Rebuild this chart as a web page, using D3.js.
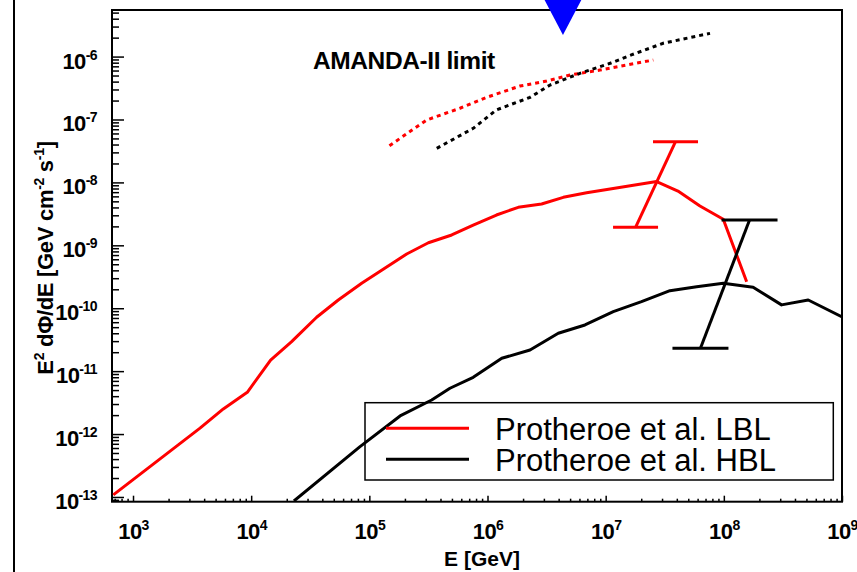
<!DOCTYPE html>
<html>
<head>
<meta charset="utf-8">
<script src="https://cdn.jsdelivr.net/npm/d3@7"></script>
<style>
  html, body { margin: 0; padding: 0; background: #fff; }
  svg { display: block; font-family: "Liberation Sans", Arial, Helvetica, sans-serif; }
</style>
</head>
<body>
<svg id="chart" width="857" height="572"></svg>
<script>
// Neutrino flux predictions, E^2 dPhi/dE [GeV cm^-2 s^-1] versus E [GeV]

// Protheroe et al. LBL model
const lblEnergy = [681, 3690, 5810, 9270, 1.46e4, 2.20e4, 3.58e4, 5.46e4, 8.61e4, 1.31e5,
                   2.07e5, 3.16e5, 4.98e5, 7.57e5, 1.19e6, 1.82e6, 2.87e6, 4.38e6, 6.90e6,
                   1.09e7, 2.70e7, 4.09e7, 6.28e7, 9.89e7, 1.56e8];
const lblFlux   = [1.08e-13, 1.24e-12, 2.51e-12, 4.61e-12, 1.50e-11, 2.94e-11, 7.18e-11, 1.35e-10,
                   2.49e-10, 4.16e-10, 7.28e-10, 1.10e-9, 1.46e-9, 2.10e-9, 3.03e-9, 4.02e-9,
                   4.54e-9, 5.79e-9, 6.85e-9, 7.85e-9, 1.03e-8, 7.29e-9, 4.22e-9, 2.59e-9, 2.64e-10];

// Protheroe et al. HBL model
const hblEnergy = [2.30e4, 8.34e4, 1.82e5, 3.37e5, 4.81e5, 7.57e5, 1.32e6, 2.29e6, 3.97e6, 6.68e6,
                   1.16e7, 2.01e7, 3.50e7, 5.89e7, 9.89e7, 1.77e8, 3.08e8, 5.18e8, 9.93e8];
const hblFlux   = [8.63e-14, 6.30e-13, 1.94e-12, 3.48e-12, 5.35e-12, 7.98e-12, 1.60e-11, 2.17e-11,
                   4.00e-11, 5.42e-11, 8.81e-11, 1.27e-10, 1.90e-10, 2.20e-10, 2.49e-10, 2.15e-10,
                   1.13e-10, 1.35e-10, 7.35e-11];

// Uncertainty bands (lower end, upper end)
const lblErrEnergy = [1.79e7, 3.90e7];
const lblErrFlux   = [1.93e-9, 4.44e-8];
const hblErrEnergy = [6.34e7, 1.65e8];
const hblErrFlux   = [2.31e-11, 2.52e-9];

// AMANDA-II limits for each model
const lblLimitEnergy = [1.48e5, 3.05e5, 5.85e5, 9.84e5, 1.88e6, 3.17e6, 4.99e6, 8.95e6, 1.51e7, 2.53e7];
const lblLimitFlux   = [3.83e-8, 9.82e-8, 1.51e-7, 2.25e-7, 3.40e-7, 4.09e-7, 5.09e-7, 6.11e-7, 7.35e-7, 8.81e-7];
const hblLimitEnergy = [3.72e5, 7.57e5, 1.19e6, 2.29e6, 3.38e6, 6.05e6, 1.09e7, 1.71e7, 3.07e7, 7.64e7];
const hblLimitFlux   = [3.48e-8, 7.24e-8, 1.42e-7, 2.25e-7, 3.53e-7, 5.42e-7, 7.82e-7, 1.09e-6, 1.63e-6, 2.34e-6];

// Marker energy shown at the top of the frame
const markerEnergy = 4.35e6;

// Axis labels
const xTickExponents = [3, 4, 5, 6, 7, 8, 9];
const yTickExponents = [-13, -12, -11, -10, -9, -8, -7, -6];
const legendLabels = ["Protheroe et al. LBL", "Protheroe et al. HBL"];
const legendColors = ["#ff0000", "#000000"];

(function () {
const svg = d3.select("#chart");
const pL = 112, pR = 842, pT = 10, pB = 501.7;

const x = d3.scaleLog().domain([664, 1e9]).range([pL, pR]);
const y = d3.scaleLog().domain([8.41e-14, 5.5e-6]).range([pB, pT]);

const zip = (a, b) => a.map((v, i) => [v, b[i]]);
const line = d3.line().x(d => x(d[0])).y(d => y(d[1]));

// full-height rule on the left
svg.append("line").attr("x1", 14).attr("x2", 14).attr("y1", 0).attr("y2", 572)
  .attr("stroke", "#000").attr("stroke-width", 2);

// clip region for the data
svg.append("defs").append("clipPath").attr("id", "plotclip")
  .append("rect").attr("x", pL).attr("y", pT).attr("width", pR - pL).attr("height", pB - pT);

const isDecade = v => Math.abs(Math.log10(v) - Math.round(Math.log10(v))) < 1e-6;
const xMajor = xTickExponents.map(e => Math.pow(10, e));
const yMajor = yTickExponents.map(e => Math.pow(10, e));
const xMinor = x.ticks().filter(v => !isDecade(v));
const yMinor = y.ticks().filter(v => !isDecade(v));

function styleAxis(g) {
  g.select(".domain").remove();
  g.selectAll(".tick line").attr("stroke", "#000").attr("stroke-width", 1.5);
}

function powerLabel(text, exps, supDy) {
  text.each(function(d, i) {
    const t = d3.select(this);
    t.text(null);
    t.append("tspan").text("10");
    t.append("tspan").attr("font-size", 14).attr("dy", supDy).text(String(exps[i]));
  });
}

// x axis: minor and major ticks pointing inward
svg.append("g").attr("transform", `translate(0,${pB})`)
  .call(d3.axisBottom(x).tickValues(xMinor).tickSize(-3).tickFormat(""))
  .call(styleAxis);
const gx = svg.append("g").attr("transform", `translate(0,${pB})`)
  .call(d3.axisBottom(x).tickValues(xMajor).tickSize(-6).tickPadding(0))
  .call(styleAxis);
gx.selectAll(".tick text")
  .attr("y", 37.6).attr("dy", 0)
  .attr("font-size", 22).attr("font-weight", "bold").attr("fill", "#000")
  .attr("letter-spacing", -0.6)
  .call(powerLabel, xTickExponents, -9);

// y axis
svg.append("g").attr("transform", `translate(${pL},0)`)
  .call(d3.axisLeft(y).tickValues(yMinor).tickSize(-7).tickFormat(""))
  .call(styleAxis);
const gy = svg.append("g").attr("transform", `translate(${pL},0)`)
  .call(d3.axisLeft(y).tickValues(yMajor).tickSize(-12).tickPadding(15))
  .call(styleAxis);
gy.selectAll(".tick text")
  .attr("dy", 11.5)
  .attr("font-size", 22).attr("font-weight", "bold").attr("fill", "#000")
  .attr("letter-spacing", -0.6)
  .call(powerLabel, yTickExponents, -9);

// frame
svg.append("rect").attr("x", pL).attr("y", pT)
  .attr("width", pR - pL).attr("height", pB - pT)
  .attr("fill", "none").attr("stroke", "#000").attr("stroke-width", 2);

// axis titles
svg.append("text").attr("x", 482).attr("y", 566)
  .attr("text-anchor", "middle").attr("font-size", 21).attr("font-weight", "bold")
  .text("E [GeV]");

const yt = svg.append("text")
  .attr("transform", "translate(53,258) rotate(-90)")
  .attr("text-anchor", "middle").attr("font-size", 22).attr("font-weight", "bold")
  .attr("letter-spacing", -0.3);
yt.append("tspan").text("E");
yt.append("tspan").attr("font-size", 14).attr("dy", -9).text("2");
yt.append("tspan").attr("dy", 9).text(" d\u03A6/dE [GeV cm");
yt.append("tspan").attr("font-size", 14).attr("dy", -9).text("-2");
yt.append("tspan").attr("dy", 9).text(" s");
yt.append("tspan").attr("font-size", 14).attr("dy", -9).text("-1");
yt.append("tspan").attr("dy", 9).text("]");

// annotation
svg.append("text").attr("x", 313).attr("y", 68.5)
  .attr("font-size", 24.5).attr("font-weight", "bold").attr("letter-spacing", -0.4)
  .text("AMANDA-II limit");

const plot = svg.append("g").attr("clip-path", "url(#plotclip)");

// limit curves (dotted)
plot.append("path").datum(zip(lblLimitEnergy, lblLimitFlux)).attr("d", line)
  .attr("fill", "none").attr("stroke", "#ff0000").attr("stroke-width", 3)
  .attr("stroke-dasharray", "4,4");
plot.append("path").datum(zip(hblLimitEnergy, hblLimitFlux)).attr("d", line)
  .attr("fill", "none").attr("stroke", "#000").attr("stroke-width", 3)
  .attr("stroke-dasharray", "4,4");

// model curves
plot.append("path").datum(zip(lblEnergy, lblFlux)).attr("d", line)
  .attr("fill", "none").attr("stroke", "#ff0000").attr("stroke-width", 3)
  .attr("stroke-linejoin", "round");
plot.append("path").datum(zip(hblEnergy, hblFlux)).attr("d", line)
  .attr("fill", "none").attr("stroke", "#000").attr("stroke-width", 3)
  .attr("stroke-linejoin", "round");

// uncertainty bars: slanted bar with horizontal caps at both ends
function errorBar(energies, fluxes, color, capHalf) {
  const g = plot.append("g").attr("stroke", color).attr("stroke-width", 3).attr("fill", "none");
  g.append("line")
    .attr("x1", x(energies[0])).attr("y1", y(fluxes[0]))
    .attr("x2", x(energies[1])).attr("y2", y(fluxes[1]));
  energies.forEach((e, i) => {
    g.append("line")
      .attr("x1", x(e) - capHalf).attr("x2", x(e) + capHalf)
      .attr("y1", y(fluxes[i])).attr("y2", y(fluxes[i]));
  });
}
errorBar(lblErrEnergy, lblErrFlux, "#ff0000", 22.5);
errorBar(hblErrEnergy, hblErrFlux, "#000", 28);

// legend
const lg = svg.append("g");
lg.append("rect").attr("x", 365).attr("y", 402.7).attr("width", 468.3).attr("height", 77.3)
  .attr("fill", "none").attr("stroke", "#000").attr("stroke-width", 1.5);
legendLabels.forEach((lab, i) => {
  const yy = 428.3 + i * 31;
  lg.append("line").attr("x1", 386).attr("x2", 469).attr("y1", yy).attr("y2", yy)
    .attr("stroke", legendColors[i]).attr("stroke-width", 3);
  lg.append("text").attr("x", 495).attr("y", yy + 12)
    .attr("font-size", 31).attr("fill", "#000").text(lab);
});

// downward marker at the top edge
const mx = x(markerEnergy);
svg.append("path")
  .attr("d", `M${mx - 21},${pT - 15} L${mx + 21},${pT - 15} L${mx},${pT + 25} Z`)
  .attr("fill", "#0000ff");
})();
</script>
</body>
</html>
